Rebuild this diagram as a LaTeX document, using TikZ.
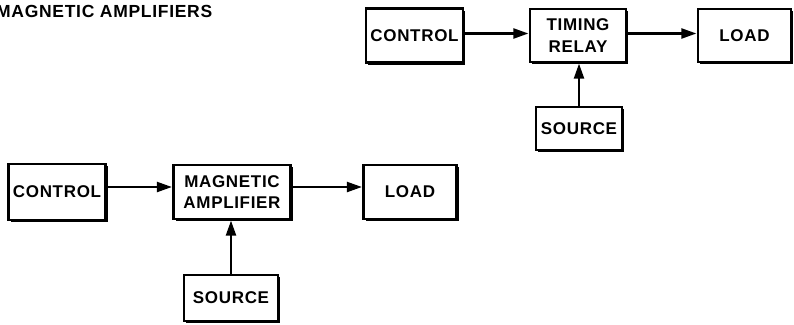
\documentclass[tikz,border=0pt]{standalone}
\usepackage{fontspec}
\setmainfont{Liberation Sans}[LetterSpace=4]
\usetikzlibrary{arrows.meta,shadows}
\begin{document}
\begin{tikzpicture}[x=1pt,y=1pt,
  blk/.style={draw=black, line width=2.2pt, fill=white, inner sep=0pt, align=center,
    font=\bfseries\fontsize{17}{21.5}\selectfont,
    drop shadow={shadow xshift=2.2pt, shadow yshift=-2.2pt, fill=black, opacity=1}},
  arr/.style={line width=2.2pt, -{Triangle[length=15pt,width=10pt]}, shorten >=0.5pt}
]
\useasboundingbox (0,0) rectangle (794,-324);
\fill[white] (0,0) rectangle (794,-324);
\node[anchor=base west, inner sep=0pt, font=\bfseries\fontsize{17.5}{20}\selectfont] (title) at (-4,-17.5) {MAGNETIC AMPLIFIERS};

% top diagram
\node[blk, minimum width=97pt, minimum height=54pt] (ctrlA) at (414.5,-35.5) {CONTROL};
\node[blk, minimum width=96pt, minimum height=53pt] (timing) at (578,-35.5) {TIMING\\RELAY};
\node[blk, minimum width=93pt, minimum height=53pt] (loadA) at (744.5,-35.5) {LOAD};
\node[blk, minimum width=86pt, minimum height=43pt] (srcA) at (579,-128.5) {SOURCE};
\draw[arr] ([yshift=2pt]ctrlA.east) -- ([yshift=2pt]timing.west);
\draw[arr] ([yshift=2pt]timing.east) -- ([yshift=2pt]loadA.west);
\draw[arr] (srcA.north) -- (srcA.north |- timing.south);

% bottom diagram
\node[blk, minimum width=97pt, minimum height=56pt] (ctrlB) at (57,-192) {CONTROL};
\node[blk, minimum width=117pt, minimum height=54pt] (mag) at (232,-192) {MAGNETIC\\AMPLIFIER};
\node[blk, minimum width=93pt, minimum height=54pt] (loadB) at (410,-192) {LOAD};
\node[blk, minimum width=94pt, minimum height=46pt] (srcB) at (231,-298) {SOURCE};
\draw[arr] ([yshift=5pt]ctrlB.east) -- ([yshift=5pt]mag.west);
\draw[arr] ([yshift=5pt]mag.east) -- ([yshift=5pt]loadB.west);
\draw[arr] (srcB.north) -- (srcB.north |- mag.south);
\end{tikzpicture}
\end{document}
